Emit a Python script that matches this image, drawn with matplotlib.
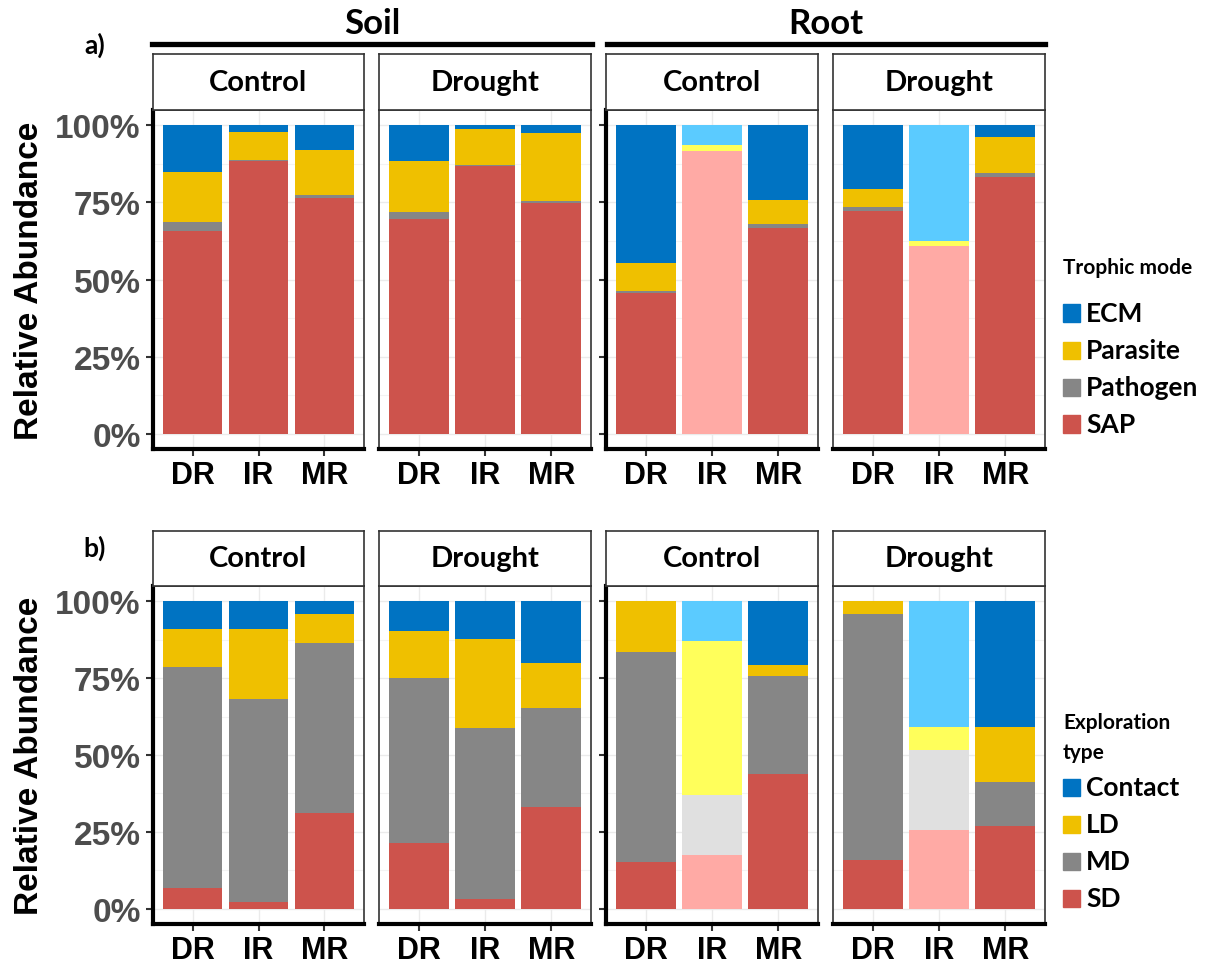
import numpy as np
import matplotlib.pyplot as plt
from matplotlib.patches import Rectangle
from matplotlib.lines import Line2D

# sites on the x axis and facet layout
sites = ['DR', 'IR', 'MR']
groups = ['Soil', 'Soil', 'Root', 'Root']
treatments = ['Control', 'Drought', 'Control', 'Drought']

# stacking order, bottom first
trophic = ['SAP', 'Pathogen', 'Parasite', 'ECM']
explore = ['SD', 'MD', 'LD', 'Contact']

# a) trophic mode, % per site (rows DR, IR, MR)
troph_soil_control = [[65.8, 3.0, 16.0, 15.2], [88.5, 0.2, 9.3, 2.0], [76.3, 1.0, 14.8, 7.9]]
troph_soil_drought = [[69.7, 2.3, 16.5, 11.5], [86.9, 0.3, 11.6, 1.2], [74.7, 0.8, 21.9, 2.6]]
troph_root_control = [[45.6, 0.7, 8.9, 44.8], [91.7, 0.0, 1.8, 6.5], [66.8, 1.3, 7.8, 24.1]]
troph_root_drought = [[72.3, 1.3, 5.9, 20.5], [60.8, 0.0, 1.8, 37.4], [83.1, 1.3, 12.0, 3.6]]

# b) exploration type, % per site (rows DR, IR, MR)
expl_soil_control = [[6.8, 72.0, 12.3, 8.9], [2.2, 65.9, 22.8, 9.1], [31.2, 55.1, 9.7, 4.0]]
expl_soil_drought = [[21.3, 53.8, 15.4, 9.5], [3.2, 55.5, 29.1, 12.2], [33.1, 32.3, 14.6, 20.0]]
expl_root_control = [[15.2, 68.4, 16.4, 0.0], [17.6, 19.5, 50.0, 12.9], [43.9, 31.9, 3.4, 20.8]]
expl_root_drought = [[15.7, 80.3, 4.0, 0.0], [25.6, 25.9, 7.6, 40.9], [27.0, 14.3, 17.8, 40.9]]

pal = ['#CD534C', '#868686', '#EFC000', '#0073C2']
pal_light = ['#FFAAA5', '#E0E0E0', '#FFFF5B', '#5BCBFF']

W, H = 1220, 970
fig = plt.figure(figsize=(W / 100, H / 100), dpi=100)

TICK_FONT = 'Liberation Sans'
HEAD_FONT = 'Lato'


def box(x0, y0, x1, y1):
    return [x0 / W, 1 - y1 / H, (x1 - x0) / W, (y1 - y0) / H]


panel_x = [(153, 364), (379, 591), (606, 818), (833, 1045)]

rows = [
    dict(strip=(55, 111), panel=(111, 450), cats=trophic, title=['Trophic mode'],
         data=[troph_soil_control, troph_soil_drought, troph_root_control, troph_root_drought]),
    dict(strip=(532, 587), panel=(587, 925), cats=explore, title=['Exploration', 'type'],
         data=[expl_soil_control, expl_soil_drought, expl_root_control, expl_root_drought]),
]

x = np.arange(1, len(sites) + 1)

for r, row in enumerate(rows):
    for j in range(4):
        x0, x1 = panel_x[j]
        ax = fig.add_axes(box(x0, row['panel'][0], x1, row['panel'][1]))
        vals = np.array(row['data'][j])
        bottom = np.zeros(len(sites))
        for k in range(len(row['cats'])):
            cols = [pal_light[k] if (groups[j] == 'Root' and s == 'IR') else pal[k] for s in sites]
            ax.bar(x, vals[:, k], 0.9, bottom=bottom, color=cols, zorder=3)
            bottom += vals[:, k]

        ax.set_xlim(0.4, 3.6)
        ax.set_ylim(-5, 105)
        ax.set_xticks(x)
        ax.set_xticklabels(sites, fontsize=22, fontweight='bold', family=TICK_FONT)
        ax.set_yticks([0, 25, 50, 75, 100])
        ax.set_yticks([12.5, 37.5, 62.5, 87.5], minor=True)
        ax.grid(True, which='major', color='#EBEBEB', lw=1.0, zorder=0)
        ax.grid(True, which='minor', axis='y', color='#F3F3F3', lw=0.8, zorder=0)
        ax.tick_params(axis='x', length=5, width=1.5, color='#333333', pad=3)
        ax.tick_params(axis='y', which='minor', length=0)
        if j == 0:
            ax.set_yticklabels(['0%', '25%', '50%', '75%', '100%'], fontsize=24,
                               fontweight='bold', family=TICK_FONT, color='#4D4D4D')
            ax.tick_params(axis='y', length=5, width=1.5, color='#333333', pad=4)
        elif j == 2:
            ax.set_yticklabels([])
            ax.tick_params(axis='y', length=5, width=1.5, color='#333333')
        else:
            ax.set_yticklabels([])
            ax.tick_params(axis='y', length=0)

        for side in ['top', 'right', 'left']:
            ax.spines[side].set_color('#333333')
            ax.spines[side].set_linewidth(1.2)
        ax.spines['bottom'].set_color('black')
        ax.spines['bottom'].set_linewidth(3)
        if j in (0, 2):
            ax.spines['left'].set_color('black')
            ax.spines['left'].set_linewidth(3)

        # facet strip
        sax = fig.add_axes(box(x0, row['strip'][0], x1, row['strip'][1]))
        sax.set_xticks([])
        sax.set_yticks([])
        for side in sax.spines.values():
            side.set_color('#333333')
            side.set_linewidth(1.2)
        sax.text(0.5, 0.5, treatments[j], ha='center', va='center', fontsize=21,
                 fontweight='bold', family=HEAD_FONT, transform=sax.transAxes)

    # y axis title
    yc = (row['panel'][0] + row['panel'][1]) / 2
    fig.text(30 / W, 1 - yc / H, 'Relative Abundance', rotation=90, ha='center', va='center',
             fontsize=24, fontweight='bold', family=TICK_FONT)

    # legend drawn by hand
    lx = 1063
    ty = 268 if r == 0 else 723
    for t, line in enumerate(row['title']):
        fig.text(lx / W, 1 - (ty + 30 * t) / H, line, ha='left', va='center',
                 fontsize=15, fontweight='bold', family=HEAD_FONT)
    ey = 314 if r == 0 else 788
    for i, k in enumerate(range(len(row['cats']) - 1, -1, -1)):
        yy = ey + 37 * i
        fig.add_artist(Rectangle((lx / W, 1 - (yy + 8.5) / H), 17 / W, 17 / H,
                                 transform=fig.transFigure, color=pal[k]))
        fig.text((lx + 23) / W, 1 - yy / H, row['cats'][k], ha='left', va='center',
                 fontsize=19, fontweight='bold', family=HEAD_FONT)

# panel letters
fig.text(95 / W, 1 - 45 / H, 'a)', ha='center', va='center', fontsize=19,
         fontweight='bold', family=HEAD_FONT)
fig.text(95 / W, 1 - 548 / H, 'b)', ha='center', va='center', fontsize=19,
         fontweight='bold', family=HEAD_FONT)

# Soil / Root headers over row a
for name, (xa, xb) in [('Soil', (152, 592)), ('Root', (607, 1045))]:
    fig.add_artist(Line2D([xa / W, xb / W], [1 - 45 / H, 1 - 45 / H], color='black',
                          lw=3.8, transform=fig.transFigure))
    fig.text((xa + xb) / 2 / W, 1 - 24 / H, name, ha='center', va='center', fontsize=25,
             fontweight='bold', family=HEAD_FONT)

fig.savefig('out.png', dpi=100, facecolor='white')
